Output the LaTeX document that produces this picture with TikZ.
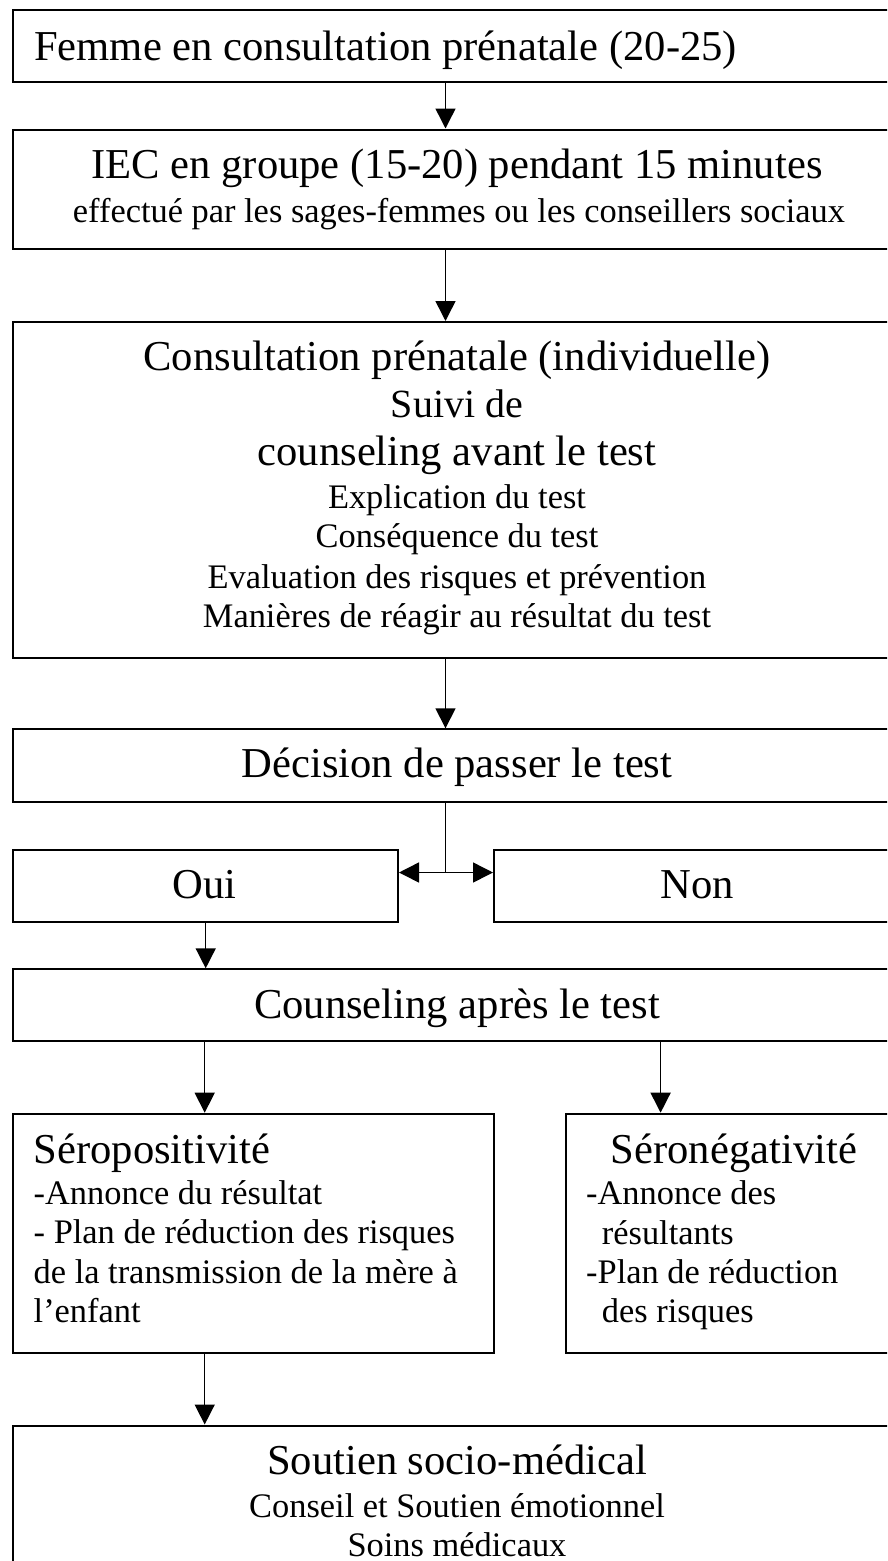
\documentclass[tikz,border=0pt]{standalone}
\usepackage{fontspec}
\setmainfont{Liberation Serif}
\usetikzlibrary{arrows.meta}
\begin{document}
\begin{tikzpicture}[x=1pt,y=-1pt,
  box/.style={draw, rectangle, line width=2pt, inner sep=0pt, anchor=north west},
  big/.style={font=\fontsize{42.6}{49}\selectfont, inner sep=0pt},
  mid/.style={font=\fontsize{40}{46}\selectfont, inner sep=0pt},
  small/.style={font=\fontsize{34.4}{40}\selectfont, inner sep=0pt},
  link/.style={line width=1.5pt},
  arr/.style={line width=1.5pt, -{Triangle[length=20pt,width=20pt]}},
  dblarr/.style={line width=1.5pt, {Triangle[length=20pt,width=20pt]}-{Triangle[length=20pt,width=20pt]}}]
\useasboundingbox (0,0) rectangle (887,1561);
\clip (0,0) rectangle (887,1561);

% column coordinates
\coordinate (cm) at (445.5,0);
\coordinate (cl) at (204.7,0);
\coordinate (cr) at (660.6,0);

% boxes
\node[box, minimum width=889.2pt, minimum height=71.4pt]  (b1)  at (12.4,9.3) {};
\node[box, minimum width=889.2pt, minimum height=119.8pt] (b2)  at (12.4,128.5) {};
\node[box, minimum width=889.2pt, minimum height=336pt]   (b3)  at (12.4,321) {};
\node[box, minimum width=889.2pt, minimum height=72.7pt]  (b4)  at (12.4,728.3) {};
\node[box, minimum width=384.6pt, minimum height=72pt]    (oui) at (12.4,849) {};
\node[box, minimum width=408.6pt, minimum height=72pt]    (non) at (493,849) {};
\node[box, minimum width=889.2pt, minimum height=72.1pt]  (b5)  at (12.4,968.3) {};
\node[box, minimum width=480.3pt, minimum height=238.8pt] (pos) at (12.4,1112.7) {};
\node[box, minimum width=337.1pt, minimum height=238.8pt] (neg) at (564.5,1112.7) {};
\node[box, minimum width=889.2pt, minimum height=180pt]   (b6)  at (12.4,1424.5) {};

% texts
\node[big, anchor=base west] (t1) at (34,60.5) {Femme en consultation prénatale (20-25)};

\node[big, anchor=base] (t2a) at (457,178.8) {IEC en groupe (15-20) pendant 15 minutes};
\node[small, anchor=base] (t2b) at (459,222.5) {effectué par les sages-femmes ou les conseillers sociaux};

\node[big, anchor=base] (t3a) at (457,370.7) {Consultation prénatale (individuelle)};
\node[mid, anchor=base] (t3b) at (457,417.3) {Suivi de};
\node[big, anchor=base] (t3c) at (457,465) {counseling avant le test};
\node[small, anchor=base] (t3d) at (457,508.3) {Explication du test};
\node[small, anchor=base] (t3e) at (457,547.7) {Conséquence du test};
\node[small, anchor=base] (t3f) at (457,588.3) {Evaluation des risques et prévention};
\node[small, anchor=base] (t3g) at (457,627.3) {Manières de réagir au résultat du test};

\node[big, anchor=base] (t4) at (457,777.7) {Décision de passer le test};
\node[big, anchor=base] (toui) at (204.7,898) {Oui};
\node[big, anchor=base] (tnon) at (697,898) {Non};
\node[big, anchor=base] (t5) at (457,1018) {Counseling après le test};

\node[big, anchor=base west] (tp1) at (33.5,1163.3) {Séropositivité};
\node[small, anchor=base west] (tp2) at (33.5,1204) {-Annonce du résultat};
\node[small, anchor=base west] (tp3) at (33.5,1243.5) {- Plan de réduction des risques};
\node[small, anchor=base west] (tp4) at (33.5,1283.3) {de la transmission de la mère à};
\node[small, anchor=base west] (tp5) at (33.5,1322) {l’enfant};

\node[big, anchor=base west] (tn1) at (610.7,1163.5) {Séronégativité};
\node[small, anchor=base west] (tn2) at (586,1204) {-Annonce des};
\node[small, anchor=base west] (tn3) at (601.7,1244) {résultants};
\node[small, anchor=base west] (tn4) at (586,1283.5) {-Plan de réduction};
\node[small, anchor=base west] (tn5) at (601.7,1322) {des risques};

\node[big, anchor=base] (t6a) at (457,1474) {Soutien socio-médical};
\node[small, anchor=base] (t6b) at (457,1517) {Conseil et Soutien émotionnel};
\node[small, anchor=base] (t6c) at (457,1556) {Soins médicaux};

% connectors
\draw[arr] (b1.south -| cm) -- (b2.north -| cm);
\draw[arr] (b2.south -| cm) -- (b3.north -| cm);
\draw[arr] (b3.south -| cm) -- (b4.north -| cm);
\coordinate (j) at (445.5,872.5);
\draw[link] (b4.south -| cm) -- (j);
\draw[dblarr] (oui.east |- j) -- (non.west |- j);
\draw[arr] (oui.south) -- (b5.north -| oui.south);
\draw[arr] (b5.south -| cl) -- (pos.north -| cl);
\draw[arr] (b5.south -| cr) -- (neg.north -| cr);
\draw[arr] (pos.south -| cl) -- (b6.north -| cl);
\end{tikzpicture}
\end{document}
